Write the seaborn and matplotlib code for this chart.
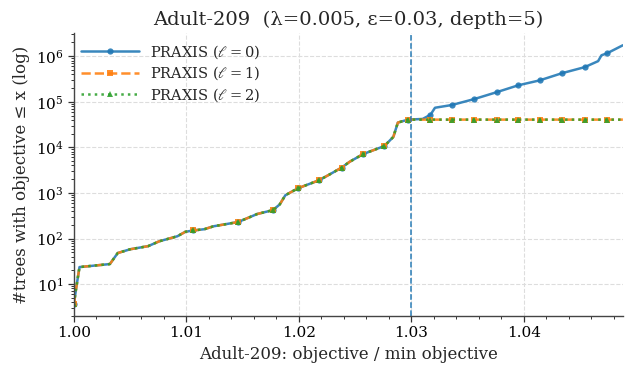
import numpy as np
import pandas as pd
import matplotlib
matplotlib.use("Agg")
import matplotlib.pyplot as plt
import seaborn as sns
from matplotlib.ticker import MultipleLocator, LogLocator

# ---- data ----
x_shared = [1.0000, 1.0002, 1.0005, 1.0032, 1.0039, 1.0050, 1.0066, 1.0076, 1.0092,
            1.0099, 1.0106, 1.0116, 1.0124, 1.0146, 1.0163, 1.0177, 1.0183, 1.0188,
            1.0199, 1.0218, 1.0228, 1.0238, 1.0245, 1.0257, 1.0276, 1.0284, 1.0288,
            1.0297]
y_shared = [3.6, 8, 23.6, 27.5, 48, 58, 68, 87, 112,
            140, 150, 160, 185, 230, 345, 420, 560, 890,
            1260, 1900, 2600, 3600, 4800, 7100, 10700, 17000, 35000,
            40600]

x_l0_tail = [1.0310, 1.0317, 1.0321, 1.0336, 1.0356, 1.0376, 1.0395, 1.0414,
             1.0434, 1.0454, 1.0466, 1.0469, 1.0474, 1.0488]
y_l0_tail = [42000, 52000, 74000, 85000, 115000, 163000, 230000, 295000,
             425000, 575000, 780000, 1050000, 1160000, 1740000]

x_flat_tail = [1.0317, 1.0336, 1.0356, 1.0376, 1.0395, 1.0414, 1.0434, 1.0454,
               1.0474, 1.0488]
y_flat_tail = [40600, 40600, 40600, 40600, 40600, 40600, 40600, 40600,
               40600, 40600]

marker_x = [1.0000, 1.0106, 1.0146, 1.0177, 1.0199, 1.0218, 1.0238, 1.0257,
            1.0276, 1.0297, 1.0317, 1.0336, 1.0356, 1.0376, 1.0395, 1.0414,
            1.0434, 1.0454, 1.0474]

labels = [r"PRAXIS ($\ell=0$)", r"PRAXIS ($\ell=1$)", r"PRAXIS ($\ell=2$)"]
threshold = 1.03
title = "Adult-209  (λ=0.005, ε=0.03, depth=5)"
xlabel = "Adult-209: objective / min objective"
ylabel = "#trees with objective ≤ x (log)"

# ---- style ----
sns.set_theme(style="ticks")
plt.rcParams["font.family"] = ["DejaVu Serif"]
plt.rcParams["mathtext.fontset"] = "dejavuserif"

fig = plt.figure(figsize=(6.26, 3.73), dpi=100)
ax = fig.add_axes([0.118, 0.153, 0.877, 0.758])

pal = sns.color_palette("tab10")
series = [
    (x_shared + x_l0_tail, y_shared + y_l0_tail, "-", "o", 4.5, 1.8),
    (x_shared + x_flat_tail, y_shared + y_flat_tail, "--", "s", 4.5, 1.8),
    (x_shared + x_flat_tail, y_shared + y_flat_tail, ":", "^", 4.0, 1.8),
]
for i, (xs, ys, ls, mk, ms, lw) in enumerate(series):
    df = pd.DataFrame({"x": xs, "y": ys})
    idx = [j for j, v in enumerate(xs) if any(abs(v - m) < 1e-9 for m in marker_x)]
    sns.lineplot(data=df, x="x", y="y", ax=ax, color=pal[i], linestyle=ls,
                 linewidth=lw, marker=mk, markersize=ms, markeredgewidth=0,
                 markevery=idx, label=labels[i], sort=False, alpha=0.88)

ax.axvline(threshold, color=pal[0], linestyle="--", linewidth=1.1, alpha=0.95)

ax.set_yscale("log")
ax.set_xlim(1.0, 1.0488)
ax.set_ylim(2.0, 3.2e6)
ax.xaxis.set_major_locator(MultipleLocator(0.01))
ax.xaxis.set_minor_locator(MultipleLocator(0.002))
ax.xaxis.set_major_formatter(matplotlib.ticker.FormatStrFormatter("%.2f"))
ax.yaxis.set_major_locator(LogLocator(base=10, numticks=10))
ax.yaxis.set_minor_locator(LogLocator(base=10, subs=np.arange(2, 10), numticks=20))
ax.grid(True, which="major", color="#dddddd", linestyle="--", linewidth=0.8)
ax.tick_params(axis="both", which="major", labelsize=11, length=4, width=0.9, colors="#333333", labelcolor="black")
ax.tick_params(axis="both", which="minor", length=2.5, width=0.7, colors="#333333")
sns.despine(ax=ax)
for s in ["left", "bottom"]:
    ax.spines[s].set_color("#444444")
    ax.spines[s].set_linewidth(1.0)

ax.set_title(title, fontsize=14)
ax.set_xlabel(xlabel, fontsize=12)
ax.set_ylabel(ylabel, fontsize=12)
ax.legend(loc="upper left", bbox_to_anchor=(0.005, 0.98), frameon=False,
          fontsize=10.5, handlelength=4.0, labelspacing=0.25, borderaxespad=0.0,
          handletextpad=0.7, borderpad=0.3)

fig.savefig("out.png", dpi=100)
